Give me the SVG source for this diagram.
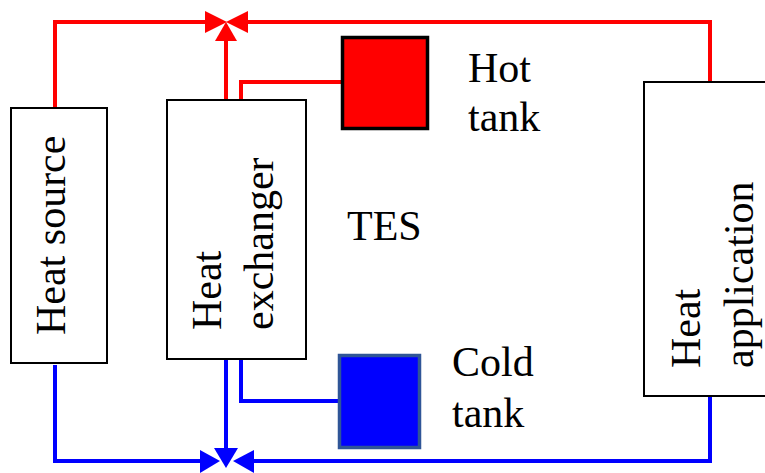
<svg xmlns="http://www.w3.org/2000/svg" width="765" height="473" viewBox="0 0 765 473">
<style>
.box{fill:#fff;stroke:#000;stroke-width:2}
.t{font-family:"Liberation Serif","Times New Roman",serif;font-size:42px;fill:#000}
.hot{fill:none;stroke:#f00;stroke-width:4}
.cold{fill:none;stroke:#00f;stroke-width:4}
.ha{fill:#f00}
.ca{fill:#00f}
</style>
<rect width="765" height="473" fill="#fff"/>
<g id="connectors">
<polyline class="hot" points="55,108 55,22 210,22"/>
<polyline class="hot" points="710,82 710,22 244,22"/>
<polyline class="hot" points="226,100 226,38"/>
<polyline class="hot" points="241,100 241,82 343,82"/>
<polygon class="ha" points="205,11 227,22 205,33"/>
<polygon class="ha" points="248,11 226,22 248,33"/>
<polygon class="ha" points="215,41 226,22 237,41"/>
<polyline class="cold" points="55,365 55,461 205,461"/>
<polyline class="cold" points="710,397 710,461 250,461"/>
<polyline class="cold" points="226,360 226,450"/>
<polyline class="cold" points="241,360 241,401 340,401"/>
<polygon class="ca" points="200,450 220,461 200,473"/>
<polygon class="ca" points="254,450 233,461 254,473"/>
<polygon class="ca" points="214,448 238,448 226,468"/>
</g>
<g id="heat-source">
<rect class="box" x="11" y="108" width="96" height="255"/>
<text class="t" transform="translate(65,335) rotate(-90)">Heat source</text>
</g>
<g id="heat-exchanger">
<rect class="box" x="167" y="100" width="139" height="259"/>
<text class="t" transform="translate(221,330) rotate(-90)">Heat</text>
<text class="t" transform="translate(273,330) rotate(-90)">exchanger</text>
</g>
<g id="heat-application">
<rect class="box" x="644" y="82" width="125" height="314"/>
<text class="t" transform="translate(700,368) rotate(-90)">Heat</text>
<text class="t" transform="translate(753,368) rotate(-90)">application</text>
</g>
<g id="hot-tank">
<rect x="342.5" y="37.5" width="85" height="91" fill="#f00" stroke="#000" stroke-width="3.5"/>
<text class="t" x="468" y="82">Hot</text>
<text class="t" x="468" y="131">tank</text>
</g>
<g id="cold-tank">
<rect x="339.5" y="355.5" width="80" height="92" fill="#00f" stroke="#2f5597" stroke-width="3.5"/>
<text class="t" x="452" y="376">Cold</text>
<text class="t" x="452" y="427">tank</text>
</g>
<g id="tes">
<text class="t" x="347" y="240">TES</text>
</g>
</svg>
